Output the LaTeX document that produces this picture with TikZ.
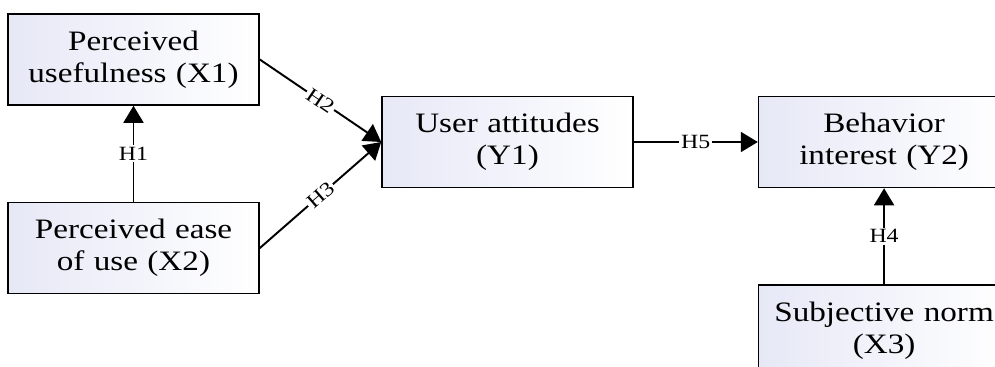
\documentclass[tikz,border=0pt]{standalone}
\usepackage{fontspec}
\setmainfont[FakeStretch=1.18]{Liberation Serif}
\usepackage{xcolor}
\usepackage{tikz}
\usetikzlibrary{arrows.meta}
\usetikzlibrary{positioning}
\definecolor{boxleft}{RGB}{230,232,246}
\tikzstyle{simple} = [rectangle, text width=4.9cm, minimum width=5.02cm, minimum height=1.82cm, text centered, align=center, inner sep=0pt, font=\fontsize{16pt}{18.2pt}\selectfont, draw=black, line width=0.9pt, left color=boxleft, right color=white]
\tikzstyle{arrow} = [line width=1.1pt,-{Triangle[length=0.34cm,width=0.4cm]}]
\tikzstyle{hlabel} = [font=\fontsize{11.5pt}{12pt}\selectfont, fill=white, inner sep=1pt]

\begin{document}
\begin{tikzpicture}
    \useasboundingbox (0,0) rectangle (19.9,-7.34);
    \node(x1)[simple] at (2.67,-1.19) {Perceived \\ usefulness (X1)};
    \node(x2)[simple, below=1.92cm of x1] {Perceived ease \\ of use (X2)};
    \node(y1)[simple] at (10.15,-2.84) {User attitudes \\ (Y1)};
    \node(y2)[simple, right=2.48cm of y1] {Behavior \\ interest (Y2)};
    \node(x3)[simple, below=1.92cm of y2] {Subjective norm \\ (X3)};
    %
    \draw [arrow] (x2)--node[hlabel]{H1} (x1);
    \draw [arrow] (x1.east)--node[hlabel, sloped]{H2} (y1.west);
    \draw [arrow] (x2.east)--node[hlabel, sloped]{H3} (y1.west);
    \draw [arrow] (y1)--node[hlabel]{H5} (y2);
    \draw [arrow] (x3)--node[hlabel]{H4} (y2);
\end{tikzpicture}
\end{document}
